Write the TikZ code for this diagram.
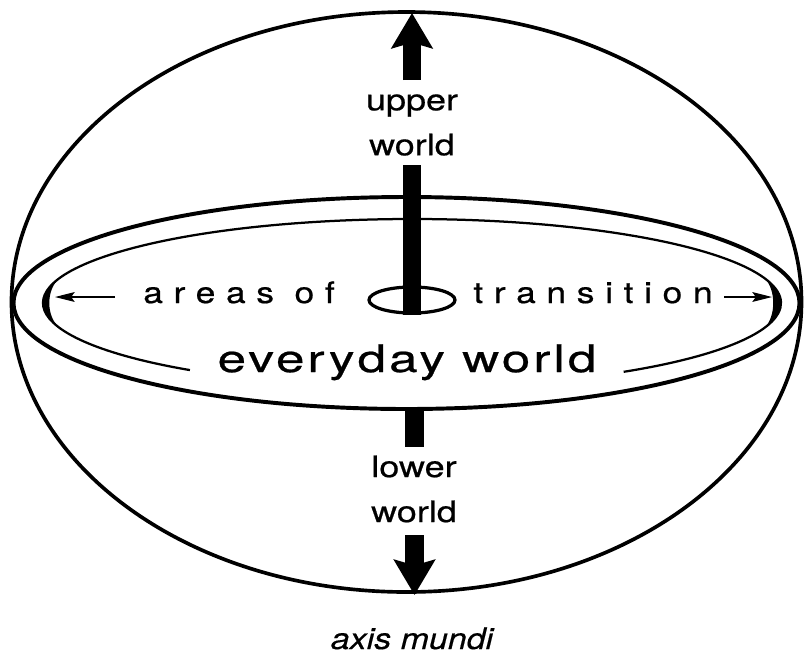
\documentclass[tikz,border=0pt]{standalone}
\usepackage{fontspec}
\setmainfont{TeX Gyre Heros}
\newfontfamily\widesf[FakeStretch=1.22,FakeBold=0.6]{TeX Gyre Heros}
\newfontfamily\trackedsf[FakeStretch=1.2,FakeBold=0.6,LetterSpace=36]{TeX Gyre Heros}
\newfontfamily\extsf[FakeStretch=1.35,FakeBold=0.6,LetterSpace=8]{TeX Gyre Heros}
\newfontfamily\obliquesf[FakeStretch=1.15,FakeBold=0.4]{TeX Gyre Heros}
\usetikzlibrary{arrows.meta}
\tikzset{
  shell/.style={line width=2.6pt},                 % sphere of the cosmos
  disc/.style={line width=2.8pt},                  % everyday world, outer rim
  rim/.style={line width=1.6pt},                   % areas of transition
  pole/.style={line width=13.5pt},                 % axis mundi bar
  poletip/.style={line width=13.5pt,-{Stealth[length=25pt,width=29pt,inset=4pt]}},
  trans/.style={line width=0.8pt,-{Stealth[length=14pt,width=7pt,inset=2.5pt]}},
  realm/.style={font=\widesf\fontsize{21}{32}\selectfont,align=center,inner sep=0pt},
  zone/.style={font=\trackedsf\fontsize{21}{24}\selectfont,inner sep=0pt,anchor=base},
}
\begin{document}
\begin{tikzpicture}[x=0.025cm,y=-0.025cm]
  \useasboundingbox (0,0) rectangle (804,654);
  % the three worlds
  \draw[shell] (406.5,302) ellipse [x radius=395, y radius=290];
  \draw[disc] (406.5,303) ellipse [x radius=393, y radius=106];
  \draw[rim] (412,303) ++(127:369 and 84) arc [start angle=127, end angle=415, x radius=369, y radius=84];
  % thick ends of the rim
  \fill (412,303) ++(163:369 and 84) arc [start angle=163, end angle=197, x radius=369, y radius=84]
        .. controls (46,290) and (46,316) .. cycle;
  \fill (412,303) ++(-17:369 and 84) arc [start angle=-17, end angle=17, x radius=369, y radius=84]
        .. controls (776,316) and (776,290) .. cycle;
  \draw[line width=2.3pt] (412,300) ellipse [x radius=43, y radius=13];

  % axis mundi
  \coordinate (uptail) at (412,80);
  \coordinate (uptip) at (412,13);
  \coordinate (ptop) at (412,165);
  \coordinate (pbot) at (412,315);
  \coordinate (ltop) at (414.5,408);
  \coordinate (lbot) at (414.5,447);
  \coordinate (dntail) at (414.5,535);
  \coordinate (dntip) at (414.5,595);
  \draw[poletip] (uptail) -- (uptip);
  \draw[pole] (ptop) -- (pbot);
  \draw[pole] (ltop) -- (lbot);
  \draw[poletip] (dntail) -- (dntip);

  \node[realm] (upper) at (412,125) {upper\\world};
  \node[realm] (lower) at (414,489) {lower\\world};

  % transition zone
  \node[zone] (areas) at (239,303) {areas of};
  \node[zone] (trans) at (593,303) {transition};
  \coordinate (ltail) at (115,297);
  \coordinate (ltip) at (55,297);
  \coordinate (rtail) at (724,297);
  \coordinate (rtip) at (772,297);
  \draw[trans] (ltail) -- (ltip);
  \draw[trans] (rtail) -- (rtip);

  \node[anchor=base,inner sep=0pt,font=\extsf\fontsize{27}{30}\selectfont] (every) at (407,372) {everyday world};
  \node[anchor=base,inner sep=0pt,font=\obliquesf\itshape\fontsize{21}{24}\selectfont] (axis) at (412,649) {axis mundi};
\end{tikzpicture}
\end{document}
